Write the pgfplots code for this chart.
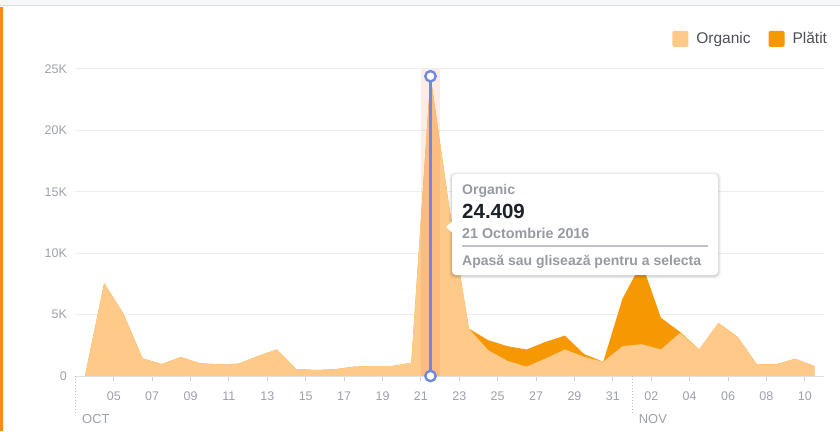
\documentclass[border=0pt]{standalone}
\usepackage{fontspec}
\setmainfont{Liberation Sans}
\usepackage{pgfplots}
\usepackage{pgfplotstable}
\pgfplotsset{compat=1.18}
\definecolor{organic}{RGB}{254,201,137}
\definecolor{paid}{RGB}{246,152,2}
\definecolor{tickgray}{RGB}{157,161,168}
\definecolor{gridgray}{RGB}{236,237,239}
\definecolor{axisgray}{RGB}{221,223,226}
\definecolor{tickmark}{RGB}{205,208,212}
\definecolor{legtext}{RGB}{75,79,86}
\definecolor{hoverblue}{RGB}{112,136,226}
\definecolor{band}{RGB}{240,120,80}
\definecolor{ttgray}{RGB}{150,154,162}
\definecolor{ttdark}{RGB}{29,33,41}
\definecolor{ttline}{RGB}{190,195,201}
\definecolor{topbar}{RGB}{246,247,249}
\definecolor{fborange}{RGB}{247,140,20}

\pgfplotstableread{
x     org    paid
3.5   0      0
4.5   7560   0
5.5   5080   0
6.5   1430   0
7.5   970    0
8.5   1540   0
9.5   1030   0
10.5  950    0
11.5  1000   0
12.5  1620   0
13.5  2160   0
14.5  570    0
15.5  490    0
16.5  540    0
17.5  760    0
18.5  810    0
19.5  810    0
20.5  1080   0
21.5  24409  0
22.5  13500  0
23.5  3860   0
24.5  2110   810
25.5  1240   1190
26.5  760    1400
27.5  1430   1350
28.5  2160   1130
29.5  1570   220
30.5  1160   0
31.5  2430   3860
32.5  2590   6640
33.5  2160   2590
34.5  3510   80
35.5  2160   0
36.5  4320   0
37.5  3190   0
38.5  950    0
39.5  950    0
40.5  1400   0
41.5  810    0
}\datatable

\begin{document}
\begin{tikzpicture}[x=1pt,y=1pt]
\path[use as bounding box] (0,0) rectangle (840,431);
% page chrome
\fill[topbar] (0,425) rectangle (840,431);
\draw[axisgray, line width=1pt] (0,425) -- (840,425);
\fill[fborange] (0,0) rectangle (3,424);

\begin{axis}[
  at={(75.4pt,55pt)}, anchor=south west,
  scale only axis, width=748.6pt, height=307pt,
  xmin=3, xmax=42, ymin=0, ymax=25000,
  clip=false,
  axis line style={draw=none},
  xtick={5,7,9,11,13,15,17,19,21,23,25,27,29,31,33,35,37,39,41},
  xticklabels={05,07,09,11,13,15,17,19,21,23,25,27,29,31,02,04,06,08,10},
  ytick={0,5000,10000,15000,20000,25000},
  yticklabels={0,5K,10K,15K,20K,25K},
  scaled ticks=false,
  ymajorgrids, grid style={gridgray, line width=1pt},
  tick align=outside, xtick pos=bottom, ytick pos=left,
  major tick length=5pt,
  xtick style={tickmark, line width=1pt},
  ytick style={draw=none},
  ticklabel style={font=\fontsize{12.5}{14}\selectfont, text=tickgray},
  xticklabel style={anchor=base, yshift=-19pt},
  yticklabel style={anchor=east, xshift=0pt},
  legend columns=2,
  legend style={draw=none, fill=none, at={(1.011,1.098)}, anchor=east,
    font=\fontsize{15.5}{18}\selectfont, text=legtext,
    /tikz/every odd column/.append style={column sep=6pt},
    /tikz/every even column/.append style={column sep=16pt}},
  legend image code/.code={\path[#1, draw=none, rounded corners=2pt] (0pt,-8pt) rectangle (16pt,8pt);},
]
\addplot[fill=paid, draw=none, forget plot] table[x=x, y expr=\thisrow{org}+\thisrow{paid}] {\datatable} \closedcycle;
\addplot[fill=organic, draw=none, forget plot] table[x=x, y=org] {\datatable} \closedcycle;
\addlegendimage{fill=organic}
\addlegendentry{Organic}
\addlegendimage{fill=paid}
\addlegendentry{Plătit}
% axis baseline
\draw[axisgray, line width=1pt] (axis cs:3,0) -- (axis cs:42,0);
% month markers
\draw[tickgray!70, line width=1pt, dash pattern=on 1pt off 2pt] (axis cs:3,0) -- ([yshift=-37pt]axis cs:3,0);
\draw[tickgray!70, line width=1pt, dash pattern=on 1pt off 2pt] (axis cs:32,0) -- ([yshift=-37pt]axis cs:32,0);
\node[anchor=base west, inner sep=0, text=tickgray, font=\fontsize{13}{15}\selectfont] at ([xshift=6.6pt, yshift=-47pt]axis cs:3,0) {OCT};
\node[anchor=base west, inner sep=0, text=tickgray, font=\fontsize{13}{15}\selectfont] at ([xshift=6.6pt, yshift=-47pt]axis cs:32,0) {NOV};
% hover band
\addplot[fill=band, fill opacity=0.15, draw=none, forget plot] coordinates {(21,25000) (22,25000)} \closedcycle;
\addplot[hoverblue, line width=2.2pt, mark=*, mark size=5.2pt, mark options={fill=white, draw=hoverblue, line width=2.4pt}, forget plot] coordinates {(21.5,0) (21.5,24409)};
\end{axis}

% tooltip
\foreach \s/\o in {3/0.03,2/0.05,1/0.07}{
  \fill[black, opacity=\o, rounded corners=5pt] (452-\s,156-\s-1) rectangle (718+\s,257+\s-1);
}
\fill[white, rounded corners=4pt] (452,156) rectangle (718,257);
\fill[white] (452.5,210) -- (446,204) -- (452.5,198) -- cycle;
\node[anchor=base west, inner sep=0, text=ttgray, font=\bfseries\fontsize{14}{16}\selectfont] at (462,236.5) {Organic};
\node[anchor=base west, inner sep=0, text=ttdark, font=\bfseries\fontsize{20.5}{24}\selectfont] at (462,212.7) {24.409};
\node[anchor=base west, inner sep=0, text=ttgray, font=\bfseries\fontsize{14.3}{16}\selectfont] at (462,192) {21 Octombrie 2016};
\draw[ttline, line width=1.3pt] (462,185) -- (708,185);
\node[anchor=base west, inner sep=0, text=ttgray, font=\bfseries\fontsize{14}{16}\selectfont] at (462,165.5) {Apasă sau glisează pentru a selecta};
\end{tikzpicture}
\end{document}
